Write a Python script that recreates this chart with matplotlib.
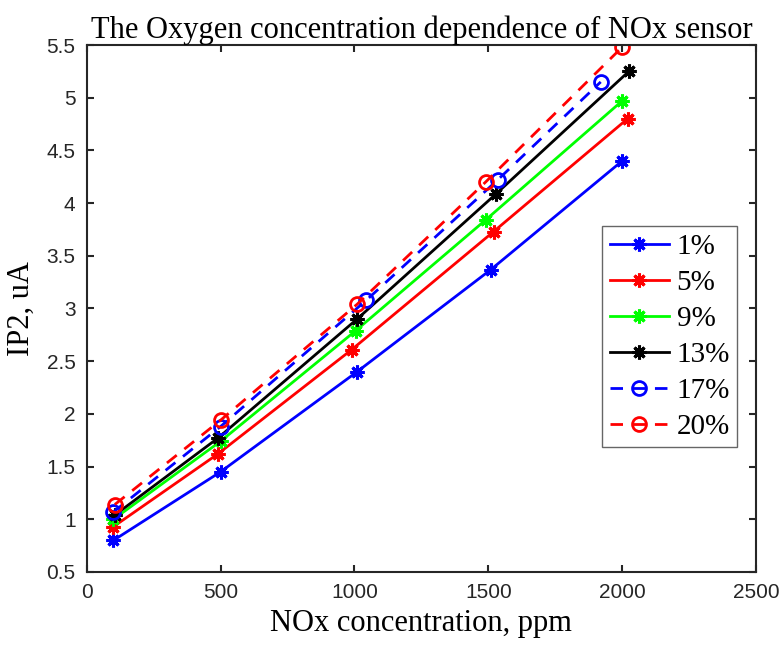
import matplotlib
matplotlib.use("Agg")
import matplotlib.pyplot as plt

# NOx concentration (ppm) and IP2 (uA) per oxygen level
labels = ["1%", "5%", "9%", "13%", "17%", "20%"]
x_vals = [
    [100, 500, 1010, 1510, 2000],
    [100, 490, 990, 1520, 2020],
    [100, 500, 1005, 1490, 2000],
    [105, 490, 1010, 1530, 2025],
    [100, 500, 1045, 1535, 1920],
    [105, 500, 1010, 1490, 2000],
]
y_vals = [
    [0.80, 1.45, 2.40, 3.37, 4.40],
    [0.93, 1.62, 2.61, 3.73, 4.80],
    [1.00, 1.74, 2.79, 3.84, 4.97],
    [1.04, 1.77, 2.90, 4.09, 5.25],
    [1.07, 1.88, 3.08, 4.22, 5.15],
    [1.14, 1.94, 3.04, 4.20, 5.48],
]
colors = ["#0000ff", "#ff0000", "#00ff00", "#000000", "#0000ff", "#ff0000"]
xticks = [0, 500, 1000, 1500, 2000, 2500]
yticks = [0.5, 1, 1.5, 2, 2.5, 3, 3.5, 4, 4.5, 5, 5.5]

serif = "Liberation Serif"
sans = "Liberation Sans"
axis_color = "#262626"

fig = plt.figure(figsize=(7.79, 6.46), dpi=100)
ax = fig.add_axes([0.1113, 0.1146, 0.8592, 0.8157])

for i, (xs, ys, c, lab) in enumerate(zip(x_vals, y_vals, colors, labels)):
    if i < 4:
        ax.plot(xs, ys, color=c, lw=2, marker=(8, 2, 0), ms=10, mew=2.2,
                label=lab)
    else:
        ax.plot(xs, ys, color=c, lw=2, ls=(0, (4.5, 3.5)), marker="o",
                ms=10, mew=2, mfc="none", label=lab)

ax.set_xlim(0, 2500)
ax.set_ylim(0.5, 5.5)
ax.set_xticks(xticks)
ax.set_yticks(yticks)
ax.set_xticklabels([str(t) for t in xticks])
ax.set_yticklabels([f"{t:g}" for t in yticks])
ax.tick_params(direction="in", length=5, width=1.5, colors=axis_color,
               labelsize=15, top=True, right=True, pad=8)
for lbl in ax.get_xticklabels() + ax.get_yticklabels():
    lbl.set_fontfamily(sans)
for sp in ax.spines.values():
    sp.set_color(axis_color)
    sp.set_linewidth(1.5)

ax.set_title("The Oxygen concentration dependence of NOx sensor",
             fontfamily=serif, fontsize=22, pad=5)
ax.set_xlabel("NOx concentration, ppm", fontfamily=serif, fontsize=22,
              labelpad=5)
ax.set_ylabel("IP2, uA", fontfamily=serif, fontsize=22, labelpad=8)

leg = ax.legend(loc="upper right", bbox_to_anchor=(0.9465, 0.650),
                bbox_transform=fig.transFigure, borderaxespad=0,
                prop={"family": serif, "size": 21}, fancybox=False,
                framealpha=1, edgecolor="#666666", handlelength=2.05,
                handletextpad=0.25, labelspacing=0.33, borderpad=0.25)
leg.get_frame().set_linewidth(1.0)

fig.savefig("out.png", dpi=100)
